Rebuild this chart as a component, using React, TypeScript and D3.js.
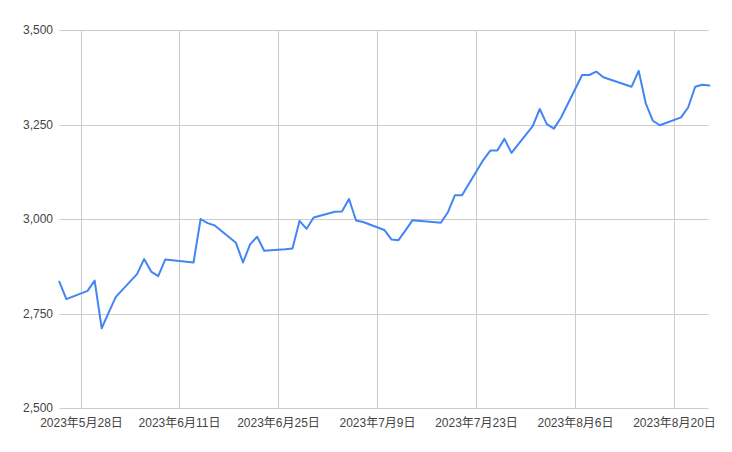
import React from "react";
import * as d3 from "d3";

const dates: string[] = [
  "2023-05-25","2023-05-26","2023-05-29","2023-05-30","2023-05-31","2023-06-01","2023-06-02",
  "2023-06-05","2023-06-06","2023-06-07","2023-06-08","2023-06-09",
  "2023-06-12","2023-06-13","2023-06-14","2023-06-15","2023-06-16",
  "2023-06-19","2023-06-20","2023-06-21","2023-06-22","2023-06-23",
  "2023-06-26","2023-06-27","2023-06-28","2023-06-29","2023-06-30",
  "2023-07-03","2023-07-04","2023-07-05","2023-07-06","2023-07-07",
  "2023-07-10","2023-07-11","2023-07-12","2023-07-13","2023-07-14",
  "2023-07-18","2023-07-19","2023-07-20","2023-07-21",
  "2023-07-24","2023-07-25","2023-07-26","2023-07-27","2023-07-28",
  "2023-07-31","2023-08-01","2023-08-02","2023-08-03","2023-08-04",
  "2023-08-07","2023-08-08","2023-08-09","2023-08-10",
  "2023-08-14","2023-08-15","2023-08-16","2023-08-17","2023-08-18",
  "2023-08-21","2023-08-22","2023-08-23","2023-08-24","2023-08-25",
];

const values: number[] = [
  2834, 2788, 2810, 2837, 2711, 2753, 2794,
  2854, 2894, 2861, 2849, 2893,
  2887, 2885, 3000, 2989, 2983,
  2937, 2885, 2933, 2953, 2916,
  2920, 2922, 2995, 2974, 3004,
  3019, 3020, 3053, 2996, 2992,
  2971, 2946, 2944, 2970, 2997,
  2990, 3018, 3063, 3063,
  3156, 3181, 3181, 3212, 3175,
  3246, 3291, 3251, 3239, 3268,
  3381, 3381, 3390, 3375,
  3350, 3392, 3306, 3260, 3248,
  3269, 3295, 3350, 3355, 3353,
];

const xTickDates: string[] = ["2023-05-28","2023-06-11","2023-06-25","2023-07-09","2023-07-23","2023-08-06","2023-08-20"];
const xTickLabels: string[] = ["2023年5月28日","2023年6月11日","2023年6月25日","2023年7月9日","2023年7月23日","2023年8月6日","2023年8月20日"];
const yTicks: number[] = [2500, 2750, 3000, 3250, 3500];

const parse = d3.utcParse("%Y-%m-%d");

export default function App() {
  const W = 732, H = 452;
  const left = 59.5, right = 708.5, top = 30, bottom = 408;
  const dayPx = (674 - 80.5) / 84;
  const d0 = parse("2023-05-28")!;
  const domStart = d3.utcDay.offset(d0, -3);
  const domEnd = d3.utcDay.offset(d0, 89);
  const x = d3.scaleUtc().domain([domStart, domEnd]).range([80.5 - 3 * dayPx, 80.5 + 89 * dayPx]);
  const y = d3.scaleLinear().domain([2500, 3500]).range([bottom, top]);
  const pts = dates.map((d, i) => [parse(d)!, values[i]] as [Date, number]);
  const line = d3.line<[Date, number]>().x((p) => x(p[0])).y((p) => y(p[1]));
  const font = "Arial, 'Liberation Sans', 'Noto Sans CJK JP', sans-serif";

  return (
    <svg width={W} height={H} style={{ position: "absolute", left: 0, top: 0, background: "#fff" }}>
      <rect x={0} y={0} width={W} height={H} fill="#fff" />
      {yTicks.map((t) => (
        <g key={t}>
          <line x1={left} x2={right} y1={Math.round(y(t)) + 0.5} y2={Math.round(y(t)) + 0.5} stroke="#cccccc" strokeWidth={1} />
          <text x={53} y={y(t) + 4} textAnchor="end" fontSize={12} fill="#444" fontFamily={font}>
            {d3.format(",")(t)}
          </text>
        </g>
      ))}
      {xTickDates.map((d, i) => {
        const xx = Math.round(x(parse(d)!)) + 0.5;
        return (
          <g key={d}>
            <line x1={xx} x2={xx} y1={top} y2={bottom} stroke="#cccccc" strokeWidth={1} />
            <text x={xx} y={427} textAnchor="middle" fontSize={12} fill="#444" fontFamily={font}>
              {xTickLabels[i]}
            </text>
          </g>
        );
      })}
      <path d={line(pts)!} fill="none" stroke="#4285F4" strokeWidth={2} strokeLinejoin="round" strokeLinecap="round" />
    </svg>
  );
}
